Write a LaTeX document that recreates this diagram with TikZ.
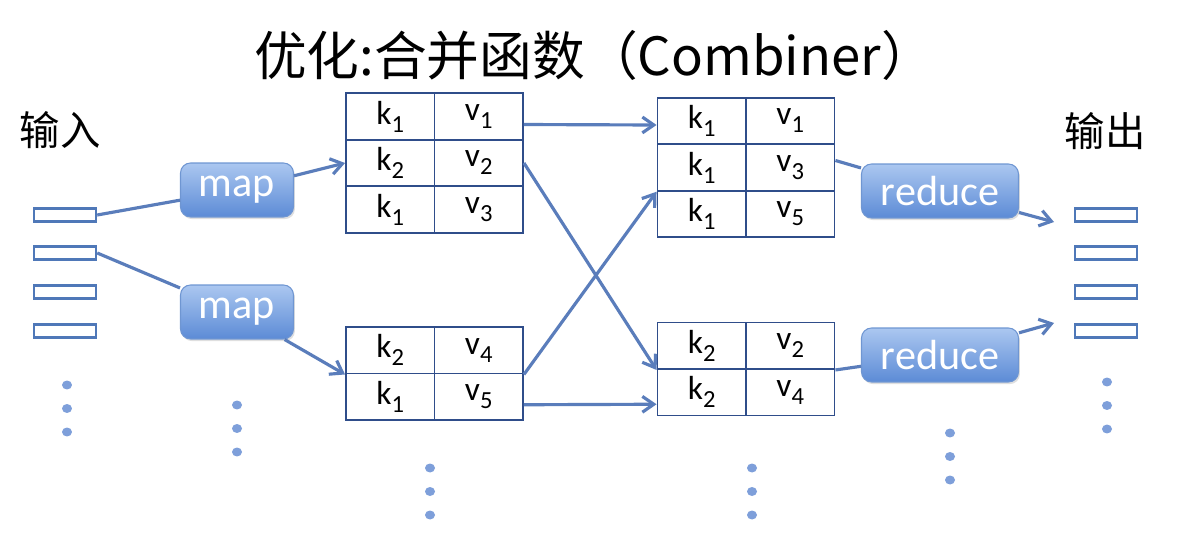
\documentclass[tikz,border=0pt]{standalone}
\usepackage{fontspec}
\setmainfont{Carlito}
\newfontfamily\cjk{Noto Sans CJK SC}
\usetikzlibrary{matrix,calc,arrows.meta,shadows}
\definecolor{linkBlue}{HTML}{5A7DBB}
\definecolor{gridBlue}{HTML}{2F4D8A}
\definecolor{funcTop}{HTML}{ABC7F0}
\definecolor{funcBottom}{HTML}{5C8BD6}
\definecolor{funcEdge}{HTML}{6F96D2}
\definecolor{slotBlue}{HTML}{4F78B8}
\definecolor{dotBlue}{HTML}{7E9FDA}
\newcommand{\kvsub}[2]{#1\raisebox{-0.5ex}{\fontsize{14}{14}\selectfont #2}}
\tikzset{
    cell/.style={draw=gridBlue, line width=1.1pt, minimum width=1.77cm, minimum height=0.93cm,
        inner sep=0pt, anchor=center, font=\fontsize{19}{19}\selectfont},
    kvtab/.style={matrix of nodes, nodes={cell}, column sep=-1.1pt, row sep=-1.1pt},
    slot/.style={draw=slotBlue, line width=1.4pt, fill=white, minimum width=1.24cm, minimum height=0.26cm, inner sep=0pt},
    func/.style={draw=funcEdge, line width=0.6pt, rounded corners=0.2cm, top color=funcTop, bottom color=funcBottom,
        minimum height=1.08cm, inner sep=0pt, text=white, font=\fontsize{24}{24}\selectfont,
        drop shadow={opacity=0.25, shadow xshift=0.8pt, shadow yshift=-1.2pt}},
    link/.style={draw=linkBlue, line width=1.8pt, >={Straight Barb[length=6.5pt,width=9pt]}},
    dotmark/.style={fill=dotBlue}
}
\begin{document}
\begin{tikzpicture}[x=0.02cm, y=-0.02cm]
    \useasboundingbox (0,0) rectangle (1188,554);

    % title and side labels
    \node (title) at (594,55) {\cjk\fontsize{30}{36}\selectfont 优化:合并函数（Combiner）};
    \node (inlabel) at (60,130) {\cjk\fontsize{23}{28}\selectfont 输入};
    \node (outlabel) at (1105,131) {\cjk\fontsize{23}{28}\selectfont 输出};

    % input and output records
    \foreach \i/\y in {1/215, 2/253, 3/292, 4/331} {
        \node[slot] (in\i) at (65,\y) {};
        \node[slot] (out\i) at (1106,\y) {};
    }

    % map and reduce
    \node[func, minimum width=2.26cm] (map1) at (237,190) {map};
    \node[func, minimum width=2.26cm] (map2) at (237,312) {map};
    \node[func, minimum width=3.14cm] (red1) at (940,191) {reduce};
    \node[func, minimum width=3.14cm] (red2) at (940,355) {reduce};

    % key/value tables
    \matrix (t1) [kvtab] at (434.5,163) {
        \kvsub{k}{1} & \kvsub{v}{1} \\
        \kvsub{k}{2} & \kvsub{v}{2} \\
        \kvsub{k}{1} & \kvsub{v}{3} \\
    };
    \matrix (t2) [kvtab] at (434.5,373.5) {
        \kvsub{k}{2} & \kvsub{v}{4} \\
        \kvsub{k}{1} & \kvsub{v}{5} \\
    };
    \matrix (t3) [kvtab] at (746,167.5) {
        \kvsub{k}{1} & \kvsub{v}{1} \\
        \kvsub{k}{1} & \kvsub{v}{3} \\
        \kvsub{k}{1} & \kvsub{v}{5} \\
    };
    \matrix (t4) [kvtab] at (746,369) {
        \kvsub{k}{2} & \kvsub{v}{2} \\
        \kvsub{k}{2} & \kvsub{v}{4} \\
    };

    \coordinate (o1) at (1054,222);
    \coordinate (o4) at (1054,323);

    % connectors
    \draw[link] (in1.east) -- (map1);
    \draw[link] (in2.east) -- (map2);
    \draw[link,->] (map1) -- (t1-2-1.west);
    \draw[link,->] (map2) -- (t2-1-1.south west);
    \draw[link,->] ($(t1-1-2.east)+(0,8)$) -- ($(t3-1-1.west)+(0,4)$);
    \draw[link,->] (t1-2-2.east) -- (t4-1-1.south west);
    \draw[link,->] (t2-1-2.south east) -- (t3-2-1.south west);
    \draw[link,->] ($(t2-2-2.east)+(0,8)$) -- ($(t4-2-1.west)+(0,12)$);
    \draw[link] ($(t3-2-2.east)+(0,-7)$) -- (red1);
    \draw[link,->] (red1) -- (o1);
    \draw[link] (t4-1-2.south east) -- (red2);
    \draw[link,->] (red2) -- (o4);

    % ellipsis dots
    \foreach \x/\y in {67/385, 237/405, 430/468, 752/468, 950/433, 1107/382} {
        \foreach \d in {0,1,2} {
            \fill[dotmark] (\x,\y+\d*23.5) ellipse (0.1cm and 0.09cm);
        }
    }
\end{tikzpicture}
\end{document}
